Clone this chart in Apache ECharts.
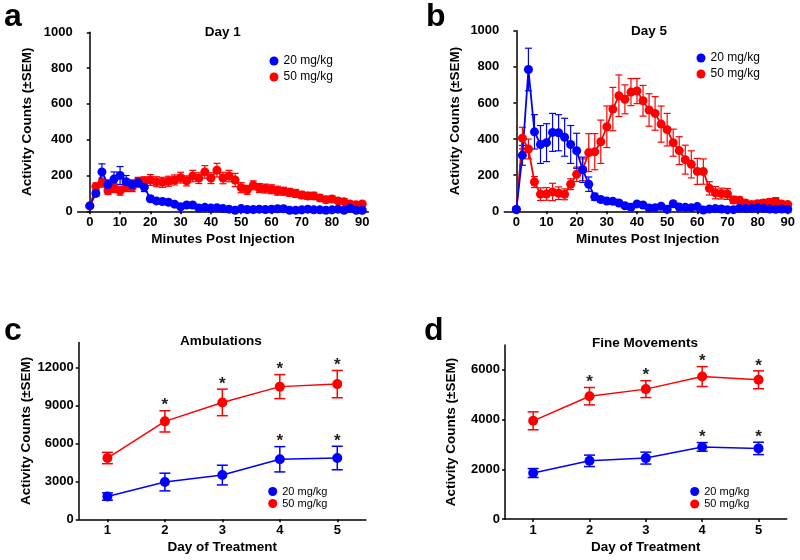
<!DOCTYPE html>
<html><head><meta charset="utf-8">
<script src="https://cdn.jsdelivr.net/npm/echarts@6/dist/echarts.min.js"></script>
<style>html,body{margin:0;padding:0;background:#fff}#c{width:800px;height:560px}</style>
</head><body><div id="c"></div>
<script>
// ---------- data ----------
const minutes = [0,2,4,6,8,10,12,14,16,18,20,22,24,26,28,30,32,34,36,38,40,42,44,46,48,50,52,54,56,58,60,62,64,66,68,70,72,74,76,78,80,82,84,86,88,90];
const minuteTicks = [0,10,20,30,40,50,60,70,80,90];
const countTicksAB = [0,200,400,600,800,1000];

const day1_20 = [30,100,220,150,180,200,165,150,160,135,70,58,55,50,40,25,35,35,18,22,18,20,15,12,6,15,10,10,12,10,12,14,14,6,6,8,12,8,8,6,8,12,6,17,6,6];
const day1_20_sem = [5,15,45,25,40,50,35,25,25,25,15,12,12,12,10,8,8,8,6,6,6,6,5,5,4,5,4,4,4,4,4,4,4,3,3,3,4,3,3,3,3,4,3,5,3,3];
const day1_50 = [30,138,160,115,130,115,135,135,165,168,175,165,162,168,175,188,170,197,185,220,185,230,186,197,175,132,120,145,130,127,123,115,112,106,100,91,86,86,75,65,69,58,54,41,37,41];
const day1_50_sem = [5,20,25,20,25,25,25,25,25,25,30,28,28,28,28,30,28,32,30,35,30,38,32,32,37,28,25,25,25,25,25,25,22,22,22,20,20,20,18,18,18,15,15,12,12,12];

const day5_20 = [10,310,785,440,370,380,437,435,410,370,335,230,150,80,65,57,55,46,31,22,41,35,18,20,28,11,42,24,22,20,26,7,13,15,13,9,9,17,15,15,18,15,13,11,13,11];
const day5_20_sem = [5,55,118,95,105,105,105,100,105,105,97,70,40,20,15,12,12,10,8,6,8,8,5,5,6,4,8,5,5,5,5,3,4,4,4,3,3,4,4,4,4,4,3,3,3,3];
const day5_50 = [10,405,345,162,95,96,107,100,94,150,205,230,325,330,385,468,566,640,620,660,666,612,561,542,483,452,380,336,286,260,221,220,127,103,98,96,63,61,46,37,42,46,50,54,41,37];
const day5_50_sem = [5,60,55,30,35,35,48,35,30,30,40,60,105,100,120,115,120,115,80,75,70,85,90,93,100,90,75,77,80,75,72,70,37,34,30,30,20,18,15,15,18,18,20,22,15,12];

const days = [1,2,3,4,5];
const ambTicks = [0,3000,6000,9000,12000];
const amb20 = [1800,2950,3500,4750,4850];
const amb20_sem = [290,700,780,1000,930];
const amb20_sig = [0,0,0,1,1];
const amb50 = [4850,7750,9250,10500,10700];
const amb50_sem = [450,840,1050,950,1080];
const amb50_sig = [0,1,1,1,1];

const fineTicks = [0,2000,4000,6000];
const fine20 = [1850,2340,2450,2900,2840];
const fine20_sem = [180,230,240,175,250];
const fine20_sig = [0,0,0,1,1];
const fine50 = [3950,4940,5225,5730,5600];
const fine50_sem = [360,350,340,400,360];
const fine50_sig = [0,1,1,1,1];

const names = ['20 mg/kg','50 mg/kg'];
const BLUE = '#0000ff', RED = '#ff0000';
const FONT = "'Liberation Sans', Arial, Helvetica, sans-serif";

// ---------- helpers ----------
function pairs(xs, ys){ return xs.map((x,i)=>[x, ys[i]]); }
function triples(xs, ys, es){ return xs.map((x,i)=>[x, ys[i], es[i]]); }
function sigPts(xs, ys, es, sig){ return xs.map((x,i)=>[x, ys[i]+es[i], sig[i]]).filter(d=>d[2]); }
const plain = v => String(v);

function xAxisCfg(gi, min, max, ticks, name){
  return {type:'value', gridIndex:gi, min:min, max:max, name:name, nameLocation:'middle', nameGap:21,
    nameTextStyle:{fontFamily:FONT, fontWeight:'bold', fontSize:13.5, color:'#000'},
    axisLine:{show:true, onZero:false, lineStyle:{color:'#000', width:1.5}},
    axisTick:{show:true, length:3, customValues:ticks, lineStyle:{color:'#000', width:1.5}},
    axisLabel:{customValues:ticks, formatter:plain, margin:5, fontFamily:FONT, fontWeight:'bold', fontSize:13, color:'#000'},
    splitLine:{show:false}};
}
function yAxisCfg(gi, max, ticks, gap){
  return {type:'value', gridIndex:gi, min:0, max:max, name:'Activity Counts (\u00b1SEM)', nameLocation:'middle', nameGap:gap,
    nameTextStyle:{fontFamily:FONT, fontWeight:'bold', fontSize:13.5, color:'#000'},
    axisLine:{show:true, lineStyle:{color:'#000', width:1.5}},
    axisTick:{show:true, length:3, customValues:ticks, lineStyle:{color:'#000', width:1.5}},
    axisLabel:{customValues:ticks, formatter:plain, margin:5, fontFamily:FONT, fontWeight:'bold', fontSize:13, color:'#000'},
    splitLine:{show:false}};
}
function errSeries(gi, data, color, hw, lw){
  return {type:'custom', xAxisIndex:gi, yAxisIndex:gi, data:data, silent:true,
    renderItem:function(params, api){
      const x = api.value(0), m = api.value(1), s = api.value(2);
      const t = api.coord([x, m+s]), b = api.coord([x, m-s]);
      const st = {stroke:color, lineWidth:lw};
      return {type:'group', children:[
        {type:'line', shape:{x1:t[0], y1:t[1], x2:b[0], y2:b[1]}, style:st},
        {type:'line', shape:{x1:t[0]-hw, y1:t[1], x2:t[0]+hw, y2:t[1]}, style:st},
        {type:'line', shape:{x1:b[0]-hw, y1:b[1], x2:b[0]+hw, y2:b[1]}, style:st}
      ]};
    }};
}
function lineSeries(gi, name, data, color, size, lw){
  return {type:'line', name:name, xAxisIndex:gi, yAxisIndex:gi, data:data, symbol:'circle', symbolSize:size,
    showAllSymbol:true, color:color, itemStyle:{color:color}, lineStyle:{color:color, width:lw}, animation:false};
}
function starSeries(gi, data){
  return {type:'custom', xAxisIndex:gi, yAxisIndex:gi, data:data, silent:true,
    renderItem:function(params, api){
      const p = api.coord([api.value(0), api.value(1)]);
      return {type:'text', x:p[0], y:p[1]-5, style:{text:'*', font:'bold 17px '+FONT, fill:'#222',
        align:'center', verticalAlign:'middle', textAlign:'center', textVerticalAlign:'middle'}};
    }};
}
function legendCfg(left, top, gap, fs){
  return {data:names, orient:'vertical', left:left, top:top, icon:'circle', itemWidth:9, itemHeight:9, itemGap:gap,
    selectedMode:false, textStyle:{fontFamily:FONT, fontSize:fs, color:'#000'}};
}
function txt(x, y, s, font, align){
  return {type:'text', x:x, y:y, style:{text:s, font:font, fill:'#000', align:align||'center', verticalAlign:'middle',
    textAlign:align||'center', textVerticalAlign:'middle'}};
}

const option = {
  backgroundColor:'#fff',
  animation:false,
  grid:[
    {left:77.7, top:32.3, width:290.6, height:179, outerBoundsMode:'none'},
    {left:504.3, top:30.7, width:286.5, height:180.6, outerBoundsMode:'none'},
    {left:78.7, top:342.4, width:287.3, height:176.9, outerBoundsMode:'none'},
    {left:505, top:345, width:281.7, height:174, outerBoundsMode:'none'}
  ],
  xAxis:[
    xAxisCfg(0, -4, 92, minuteTicks, 'Minutes Post Injection'),
    xAxisCfg(1, -4, 91, minuteTicks, 'Minutes Post Injection'),
    xAxisCfg(2, 0.5, 5.5, days, 'Day of Treatment'),
    xAxisCfg(3, 0.5, 5.5, days, 'Day of Treatment')
  ],
  yAxis:[
    yAxisCfg(0, 1000, countTicksAB, 43),
    yAxisCfg(1, 1000, countTicksAB, 42),
    yAxisCfg(2, 14000, ambTicks, 44),
    yAxisCfg(3, 7000, fineTicks, 47)
  ],
  legend:[
    legendCfg(264.5, 50, 4, 12),
    legendCfg(691.5, 47, 4, 12),
    legendCfg(263.2, 481, 1, 11),
    legendCfg(685.2, 481, 1.5, 11)
  ],
  series:[
    errSeries(0, triples(minutes, day1_50, day1_50_sem), RED, 3.5, 1.2),
    lineSeries(0, names[1], pairs(minutes, day1_50), RED, 9, 1.8),
    errSeries(0, triples(minutes, day1_20, day1_20_sem), BLUE, 3.5, 1.2),
    lineSeries(0, names[0], pairs(minutes, day1_20), BLUE, 9, 1.8),

    errSeries(1, triples(minutes, day5_50, day5_50_sem), RED, 3.5, 1.2),
    lineSeries(1, names[1], pairs(minutes, day5_50), RED, 9, 1.8),
    errSeries(1, triples(minutes, day5_20, day5_20_sem), BLUE, 3.5, 1.2),
    lineSeries(1, names[0], pairs(minutes, day5_20), BLUE, 9, 1.8),

    errSeries(2, triples(days, amb50, amb50_sem), RED, 5.5, 1.5),
    lineSeries(2, names[1], pairs(days, amb50), RED, 10, 1.5),
    errSeries(2, triples(days, amb20, amb20_sem), BLUE, 5.5, 1.5),
    lineSeries(2, names[0], pairs(days, amb20), BLUE, 10, 1.5),
    starSeries(2, sigPts(days, amb50, amb50_sem, amb50_sig)),
    starSeries(2, sigPts(days, amb20, amb20_sem, amb20_sig)),

    errSeries(3, triples(days, fine50, fine50_sem), RED, 5.5, 1.5),
    lineSeries(3, names[1], pairs(days, fine50), RED, 10, 1.5),
    errSeries(3, triples(days, fine20, fine20_sem), BLUE, 5.5, 1.5),
    lineSeries(3, names[0], pairs(days, fine20), BLUE, 10, 1.5),
    starSeries(3, sigPts(days, fine50, fine50_sem, fine50_sig)),
    starSeries(3, sigPts(days, fine20, fine20_sem, fine20_sig))
  ],
  graphic:[
    txt(222.7, 32, 'Day 1', 'bold 13.5px '+FONT),
    txt(649, 31, 'Day 5', 'bold 13.5px '+FONT),
    txt(221, 341, 'Ambulations', 'bold 13.5px '+FONT),
    txt(645, 343, 'Fine Movements', 'bold 13.5px '+FONT),
    txt(4, 17, 'a', 'bold 32px '+FONT, 'left'),
    txt(426, 17, 'b', 'bold 32px '+FONT, 'left'),
    txt(4, 331, 'c', 'bold 32px '+FONT, 'left'),
    txt(424, 331, 'd', 'bold 32px '+FONT, 'left')
  ]
};
const chart = echarts.init(document.getElementById('c'), null, {renderer:'canvas'});
chart.setOption(option);
</script></body></html>
